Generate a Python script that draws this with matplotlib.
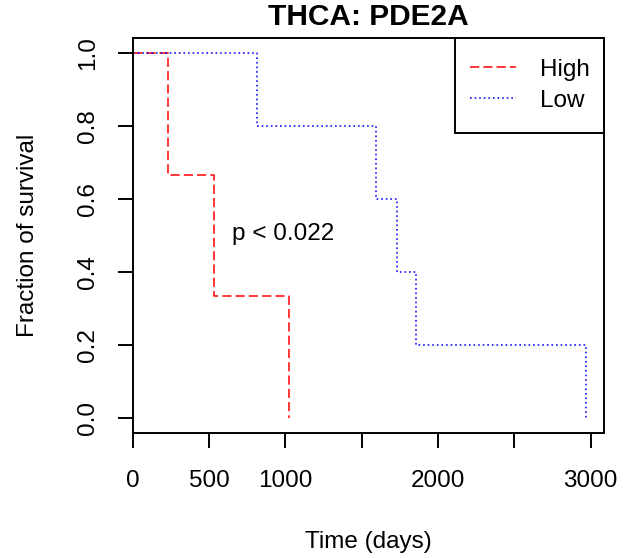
import matplotlib
matplotlib.use("Agg")
import matplotlib.pyplot as plt
from matplotlib.path import Path

# survival steps (time in days, fraction surviving)
high_time = [0, 233, 533, 1024]
high_surv = [1.0, 0.667, 0.333, 0.0]
low_time = [0, 812, 1592, 1732, 1854, 2971]
low_surv = [1.0, 0.8, 0.6, 0.4, 0.2, 0.0]

x_ticks = [0, 500, 1000, 1500, 2000, 2500, 3000]
x_labels = ["0", "500", "1000", "", "2000", "", "3000"]
y_ticks = [0.0, 0.2, 0.4, 0.6, 0.8, 1.0]
y_labels = ["0.0", "0.2", "0.4", "0.6", "0.8", "1.0"]

plt.rcParams["font.family"] = ["Liberation Sans", "DejaVu Sans"]
fs = 17.5
lw = 1.1


def tall_box(x0, y0, width, height, mutation_size):
    # square legend frame with extra room above and below only
    dy = 0.275 * mutation_size
    return Path([(x0, y0 - dy), (x0 + width, y0 - dy),
                 (x0 + width, y0 + height + dy), (x0, y0 + height + dy),
                 (x0, y0 - dy)], closed=True)


fig = plt.figure(figsize=(6.3, 5.58), dpi=100)
ax = fig.add_axes([0.2106, 0.224, 0.7481, 0.7079])

ax.step(high_time, high_surv, where="post", color="#ff0000", lw=lw,
        dashes=(6, 2.7), label="High")
ax.step(low_time, low_surv, where="post", color="#0000ff", lw=lw,
        dashes=(1.1, 1.9), label="Low")

ax.set_xlim(0, 3088)
ax.set_ylim(-0.041, 1.041)
ax.set_xticks(x_ticks)
ax.set_xticklabels(x_labels)
ax.set_yticks(y_ticks)
ax.set_yticklabels(y_labels, rotation=90, va="center")
ax.tick_params(axis="both", length=11, width=1.4, labelsize=fs, color="black")
ax.tick_params(axis="x", pad=15.5)
ax.tick_params(axis="y", pad=13.5)
for sp in ax.spines.values():
    sp.set_linewidth(1.4)

ax.set_xlabel("Time (days)", fontsize=fs, va="center")
ax.xaxis.set_label_coords(0.5, -0.276)
ax.set_ylabel("Fraction of survival", fontsize=fs, va="center")
ax.yaxis.set_label_coords(-0.222, 0.5)

ax.text(0.5, 1.052, "THCA: PDE2A", transform=ax.transAxes, ha="center",
        va="center", fontsize=21.5, fontweight="bold")
ax.text(650, 0.505, "p < 0.022", fontsize=fs, va="center", ha="left")

leg = ax.legend(loc="upper right", bbox_to_anchor=(1, 0.983), borderaxespad=0,
                fontsize=fs, fancybox=False, framealpha=1, edgecolor="black",
                handlelength=1.9, handletextpad=1.0,
                borderpad=0.58, labelspacing=0.37)
leg.get_frame().set_boxstyle(tall_box)
leg.get_frame().set_linewidth(1.4)

fig.savefig("out.png", dpi=100)
